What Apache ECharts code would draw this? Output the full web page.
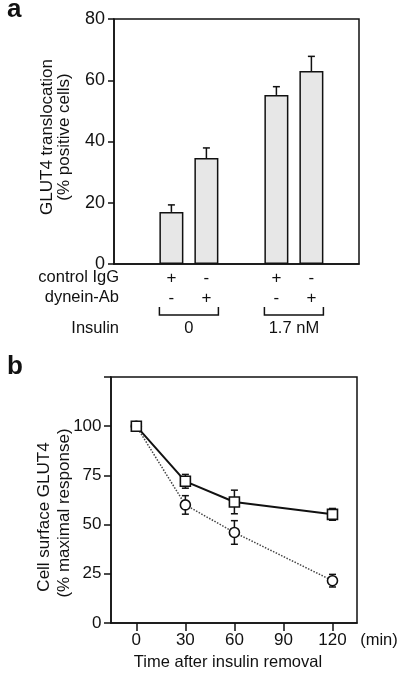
<!DOCTYPE html>
<html><head><meta charset="utf-8">
<script src="https://cdn.jsdelivr.net/npm/echarts@6/dist/echarts.min.js"></script>
<style>html,body{margin:0;padding:0;background:#fff}#c{width:400px;height:676px}</style>
</head><body><div id="c"></div>
<script>
// ---- Panel a data ----
const barSlots = [1, 2, 4, 5];
const barValues = [17.0, 34.6, 55.2, 63.0];
const barErrors = [2.3, 3.3, 2.7, 4.8];
const controlIgG = ['+', '-', '+', '-'];
const dyneinAb = ['-', '+', '-', '+'];
const insulinLabels = ['0', '1.7 nM'];
const insulinGroups = [[1, 2], [4, 5]];
const rowLabels = ['control IgG', 'dynein-Ab', 'Insulin'];
const yTicksA = [0, 20, 40, 60, 80];
// ---- Panel b data ----
const timeMin = [0, 30, 60, 120];
const squareVals = [100, 72, 61.5, 55.2];
const squareErr = [0, 3.5, 6, 3];
const circleVals = [100, 60, 46, 21.5];
const circleErr = [0, 4.7, 6, 3.2];
const xTicksB = [0, 30, 60, 90, 120];
const yTicksB = [0, 25, 50, 75, 100];

const FONT = '"Liberation Sans", Arial, Helvetica, sans-serif';
const INK = '#111';

const chart = echarts.init(document.getElementById('c'), null, {renderer: 'canvas'});

function errRender(upOnly, cap) {
  return function (params, api) {
    const x = api.value(0), v = api.value(1), e = api.value(2);
    if (!e) return null;
    const t = api.coord([x, v + e]);
    const b = api.coord([x, upOnly ? v : v - e]);
    const st = {stroke: INK, lineWidth: 1.5};
    const ch = [
      {type: 'line', shape: {x1: t[0], y1: t[1], x2: b[0], y2: b[1]}, style: st},
      {type: 'line', shape: {x1: t[0] - cap, y1: t[1], x2: t[0] + cap, y2: t[1]}, style: st}
    ];
    if (!upOnly) ch.push({type: 'line', shape: {x1: b[0] - cap, y1: b[1], x2: b[0] + cap, y2: b[1]}, style: st});
    return {type: 'group', children: ch};
  };
}

const axisLineStyle = {onZero: false, lineStyle: {color: INK, width: 1.5}};

chart.setOption({
  animation: false,
  backgroundColor: '#fff',
  grid: [
    {left: 114, top: 19, width: 245, height: 245, show: true, borderColor: INK, borderWidth: 1.5, backgroundColor: 'transparent'},
    {left: 111, top: 377, width: 246, height: 246, show: true, borderColor: INK, borderWidth: 1.5, backgroundColor: 'transparent'}
  ],
  xAxis: [
    {gridIndex: 0, type: 'value', min: -0.64, max: 6.36, axisLine: axisLineStyle, splitLine: {show: false},
      axisTick: {show: false},
      axisLabel: {customValues: barSlots, margin: 4, fontFamily: FONT, fontSize: 17, color: INK, lineHeight: 20,
        formatter: function (v) { const i = barSlots.indexOf(v); return i < 0 ? '' : controlIgG[i] + '\n' + dyneinAb[i]; }}},
    {gridIndex: 1, type: 'value', min: -15.5, max: 135, axisLine: axisLineStyle, splitLine: {show: false},
      axisTick: {customValues: xTicksB, length: 8, lineStyle: {color: INK, width: 1.5}},
      axisLabel: {customValues: xTicksB, margin: 9, fontFamily: FONT, fontSize: 17, color: INK}}
  ],
  yAxis: [
    {gridIndex: 0, type: 'value', min: 0, max: 80, interval: 20, axisLine: axisLineStyle, splitLine: {show: false},
      axisTick: {length: 6, lineStyle: {color: INK, width: 1.5}},
      axisLabel: {margin: 9, fontFamily: FONT, fontSize: 18, color: INK}},
    {gridIndex: 1, type: 'value', min: 0, max: 125, interval: 25, axisLine: axisLineStyle, splitLine: {show: false},
      axisTick: {length: 7, lineStyle: {color: INK, width: 1.5}},
      axisLabel: {customValues: yTicksB, margin: 9.5, fontFamily: FONT, fontSize: 17, color: INK}}
  ],
  series: [
    {type: 'bar', xAxisIndex: 0, yAxisIndex: 0, barWidth: 24, z: 2,
      data: barSlots.map((s, i) => [s, barValues[i]]),
      itemStyle: {color: '#e7e7e7', borderColor: INK, borderWidth: 1.5}},
    {type: 'custom', xAxisIndex: 0, yAxisIndex: 0, z: 3, renderItem: errRender(true, 3.5),
      data: barSlots.map((s, i) => [s, barValues[i], barErrors[i]])},
    {type: 'custom', xAxisIndex: 1, yAxisIndex: 1, z: 2, renderItem: errRender(false, 3.5),
      data: timeMin.map((t, i) => [t, circleVals[i], circleErr[i]])},
    {type: 'custom', xAxisIndex: 1, yAxisIndex: 1, z: 2, renderItem: errRender(false, 3.5),
      data: timeMin.map((t, i) => [t, squareVals[i], squareErr[i]])},
    {type: 'line', xAxisIndex: 1, yAxisIndex: 1, z: 4, symbol: 'circle', symbolSize: 10,
      data: timeMin.map((t, i) => [t, circleVals[i]]),
      lineStyle: {color: '#444', width: 1.5, type: 'dotted'},
      itemStyle: {color: '#fff', borderColor: INK, borderWidth: 1.6}},
    {type: 'line', xAxisIndex: 1, yAxisIndex: 1, z: 5, symbol: 'rect', symbolSize: 10,
      data: timeMin.map((t, i) => [t, squareVals[i]]),
      lineStyle: {color: INK, width: 2},
      itemStyle: {color: '#fff', borderColor: INK, borderWidth: 1.6}}
  ]
});

function txt(text, x, y, opts) {
  opts = opts || {};
  return {type: 'text', x: x, y: y, rotation: opts.rot || 0, z: 10,
    style: {text: text, font: (opts.weight || 'normal') + ' ' + (opts.size || 16.5) + 'px ' + FONT, fill: INK,
      align: opts.align || 'center', verticalAlign: 'middle', textAlign: opts.align || 'center', textVerticalAlign: 'middle'}};
}

const a0 = chart.convertToPixel({gridIndex: 0}, [0, 0]);
const baseA = a0[1];
const graphics = [];
graphics.push(txt('a', 7, 10, {align: 'left', weight: 'bold', size: 26}));
graphics.push(txt('b', 7, 367, {align: 'left', weight: 'bold', size: 26}));
graphics.push(txt(rowLabels[0], 119, baseA + 13.5, {align: 'right'}));
graphics.push(txt(rowLabels[1], 119, baseA + 33.5, {align: 'right'}));
graphics.push(txt(rowLabels[2], 119, baseA + 64, {align: 'right'}));
insulinGroups.forEach(function (g, i) {
  const p1 = chart.convertToPixel({gridIndex: 0}, [g[0], 0]);
  const p2 = chart.convertToPixel({gridIndex: 0}, [g[1], 0]);
  const xl = p1[0] - 12, xr = p2[0] + 12, yt = baseA + 43, yb = baseA + 51;
  graphics.push({type: 'polyline', z: 10, shape: {points: [[xl, yt], [xl, yb], [xr, yb], [xr, yt]]},
    style: {stroke: INK, lineWidth: 1.5, fill: null}});
  graphics.push(txt(insulinLabels[i], (p1[0] + p2[0]) / 2, baseA + 64));
});
graphics.push(txt('GLUT4 translocation', 47, 137, {rot: Math.PI / 2, size: 17}));
graphics.push(txt('(% positive cells)', 64, 137, {rot: Math.PI / 2, size: 17}));
graphics.push(txt('Cell surface GLUT4', 44, 517, {rot: Math.PI / 2, size: 17}));
graphics.push(txt('(% maximal response)', 64, 513, {rot: Math.PI / 2, size: 17}));
const b0 = chart.convertToPixel({gridIndex: 1}, [0, 0]);
graphics.push(txt('(min)', 379, b0[1] + 17.5));
graphics.push(txt('Time after insulin removal', 228, b0[1] + 39.5));
chart.setOption({graphic: graphics});
</script>
</body></html>
